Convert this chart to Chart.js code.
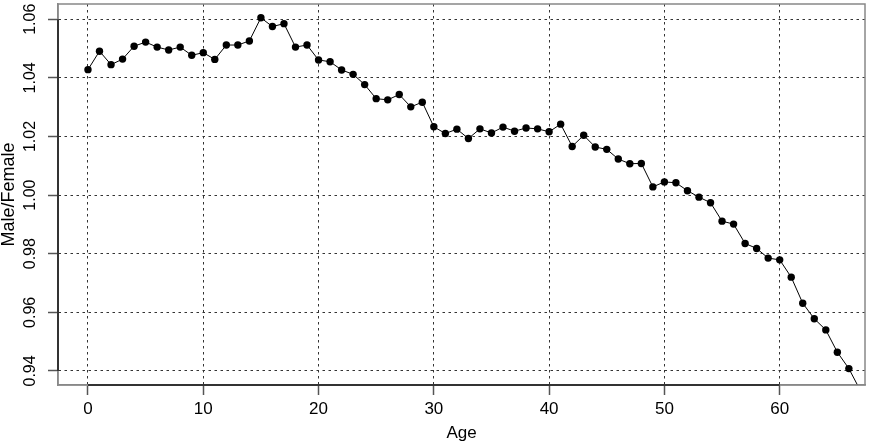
<!DOCTYPE html>
<html>
<head>
<meta charset="utf-8">
<script src="https://cdn.jsdelivr.net/npm/chart.js@4.4.1/dist/chart.umd.min.js"></script>
<style>
  html, body { margin: 0; padding: 0; background: #fff; }
  #wrap { width: 869px; height: 445px; position: relative; }
</style>
</head>
<body>
<div id="wrap"><canvas id="c"></canvas></div>
<script>
const ages = [0,1,2,3,4,5,6,7,8,9,10,11,12,13,14,15,16,17,18,19,20,21,22,23,24,25,26,27,28,29,30,31,32,33,34,35,36,37,38,39,40,41,42,43,44,45,46,47,48,49,50,51,52,53,54,55,56,57,58,59,60,61,62,63,64,65,66,67];
const ratio = [
  1.0428, 1.0491, 1.0445, 1.0464, 1.0508, 1.0522, 1.0505, 1.0495, 1.0505, 1.0477,
  1.0486, 1.0463, 1.0512, 1.0512, 1.0526, 1.0605, 1.0575, 1.0585, 1.0505, 1.0512,
  1.0461, 1.0455, 1.0427, 1.0412, 1.0377, 1.0329, 1.0325, 1.0343, 1.0301, 1.0317,
  1.0233, 1.0210, 1.0225, 1.0193, 1.0226, 1.0212, 1.0232, 1.0218, 1.0229, 1.0226,
  1.0216, 1.0242, 1.0166, 1.0204, 1.0164, 1.0156, 1.0123, 1.0107, 1.0108, 1.0028,
  1.0045, 1.0042, 1.0015, 0.9993, 0.9974, 0.9911, 0.9901, 0.9835, 0.9818, 0.9785,
  0.9779, 0.9720, 0.9631, 0.9578, 0.9540, 0.9464, 0.9408, 0.9333
];
const xTicks = [0, 10, 20, 30, 40, 50, 60];
const yTicks = [0.94, 0.96, 0.98, 1.00, 1.02, 1.04, 1.06];
const yTickLabels = ['0.94', '0.96', '0.98', '1.00', '1.02', '1.04', '1.06'];
const xTitle = 'Age';
const yTitle = 'Male/Female';

const FONT = '"Liberation Sans", Arial, Helvetica, sans-serif';

const framePlugin = {
  id: 'frame',
  afterDraw(chart) {
    const ctx = chart.ctx;
    const a = chart.chartArea;
    const xs = chart.scales.x, ys = chart.scales.y;
    ctx.save();
    ctx.strokeStyle = '#888';
    ctx.lineWidth = 1.5;
    ctx.strokeRect(a.left, a.top, a.right - a.left, a.bottom - a.top);
    ctx.strokeStyle = '#333';
    ctx.lineWidth = 2;
    ctx.beginPath();
    ctx.moveTo(xs.getPixelForValue(xTicks[0]), a.bottom);
    ctx.lineTo(xs.getPixelForValue(xTicks[xTicks.length - 1]), a.bottom);
    ctx.moveTo(a.left, ys.getPixelForValue(yTicks[0]));
    ctx.lineTo(a.left, ys.getPixelForValue(yTicks[yTicks.length - 1]));
    ctx.stroke();
    ctx.fillStyle = '#000';
    ctx.font = '16px ' + FONT;
    ctx.textAlign = 'center';
    ctx.textBaseline = 'middle';
    yTicks.forEach((v, i) => {
      const py = ys.getPixelForValue(v);
      ctx.save();
      ctx.translate(31, py);
      ctx.rotate(-Math.PI / 2);
      ctx.fillText(yTickLabels[i], 0, 0);
      ctx.restore();
    });
    ctx.restore();
  }
};

new Chart(document.getElementById('c'), {
  type: 'line',
  data: {
    datasets: [{
      data: ages.map((a, i) => ({ x: a, y: ratio[i] })),
      borderColor: '#000',
      borderWidth: 1,
      backgroundColor: '#000',
      pointBackgroundColor: '#000',
      pointBorderWidth: 0,
      pointRadius: 3.7,
      tension: 0
    }]
  },
  options: {
    responsive: true,
    maintainAspectRatio: false,
    animation: false,
    layout: { padding: { top: 3, right: 2, left: 0, bottom: 0 } },
    plugins: { legend: { display: false }, tooltip: { enabled: false } },
    scales: {
      x: {
        type: 'linear',
        min: -2.6,
        max: 67.4,
        afterBuildTicks: s => { s.ticks = xTicks.map(v => ({ value: v })); },
        afterFit: s => { s.height = 60; },
        ticks: { color: '#000', font: { family: FONT, size: 17 }, padding: 4, maxRotation: 0, autoSkip: false },
        grid: { color: '#333', lineWidth: 1, drawTicks: true, tickLength: 10, tickColor: '#555', tickWidth: 1.5 },
        border: { display: true, color: '#888', width: 1.5, dash: [2.5, 3.5] },
        title: { display: true, text: xTitle, color: '#000', font: { family: FONT, size: 17, lineHeight: 1.2 }, padding: { top: 0, bottom: 1 } }
      },
      y: {
        type: 'linear',
        min: 0.9352,
        max: 1.0652,
        afterBuildTicks: s => { s.ticks = yTicks.map(v => ({ value: v })); },
        afterFit: s => { s.width = 58; },
        ticks: { display: false },
        grid: { color: '#333', lineWidth: 1, drawTicks: true, tickLength: 10, tickColor: '#555', tickWidth: 1.5 },
        border: { display: true, color: '#888', width: 1.5, dash: [2.5, 3.5] },
        title: { display: true, text: yTitle, color: '#000', font: { family: FONT, size: 18, lineHeight: 1 }, padding: { top: 0, bottom: 0 } }
      }
    }
  },
  plugins: [framePlugin]
});
</script>
</body>
</html>
